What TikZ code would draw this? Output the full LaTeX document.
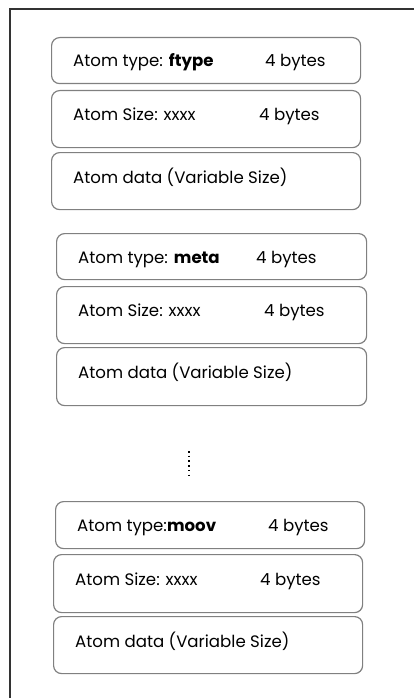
\documentclass[tikz,border=0pt]{standalone}
\usepackage{fontspec}
\setmainfont{Poppins}
\begin{document}
\begin{tikzpicture}[x=1pt,y=1pt,
  atombox/.style={draw=black!50, line width=1.2pt, rounded corners=8pt, anchor=north west, inner sep=0pt},
  lbl/.style={anchor=base west, inner sep=0pt, font=\fontsize{16.6}{18}\selectfont, text=black}]
\useasboundingbox (0,0) rectangle (414,-698);
% frame
\coordinate (ftl) at (10,-9);
\coordinate (ftr) at (414,-9);
\coordinate (fbl) at (10,-698);
\draw[line width=1.4pt, black!80] (fbl) -- (ftl) -- (ftr);
% group 1
\node[atombox, minimum width=309pt, minimum height=46pt] (a1) at (51,-37) {};
\node[atombox, minimum width=309pt, minimum height=57pt] (a2) at (51,-90) {};
\node[atombox, minimum width=309pt, minimum height=57pt] (a3) at (51,-152) {};
\node[lbl] (a1t) at (73,-67) {Atom type: \textbf{ftype}};
\node[lbl] (a1b) at (265,-67) {4 bytes};
\node[lbl] (a2t) at (73,-121) {Atom Size: xxxx};
\node[lbl] (a2b) at (259,-121) {4 bytes};
\node[lbl] (a3t) at (73,-183) {Atom data (Variable Size)};
% group 2
\node[atombox, minimum width=310pt, minimum height=46pt] (b1) at (56,-233) {};
\node[atombox, minimum width=310pt, minimum height=57pt] (b2) at (56,-286) {};
\node[atombox, minimum width=310pt, minimum height=58pt] (b3) at (56,-347) {};
\node[lbl] (b1t) at (78,-263) {Atom type: \textbf{meta}};
\node[lbl] (b1b) at (256,-263) {4 bytes};
\node[lbl] (b2t) at (78,-316) {Atom Size: xxxx};
\node[lbl] (b2b) at (264,-316) {4 bytes};
\node[lbl] (b3t) at (78,-378) {Atom data (Variable Size)};
% dots
\coordinate (d1) at (189,-451);
\coordinate (d2) at (189,-477);
\draw[line width=1.5pt, dash pattern=on 1.5pt off 3.2pt] (d1) -- (d2);
% group 3
\node[atombox, minimum width=309pt, minimum height=47pt] (c1) at (55,-501) {};
\node[atombox, minimum width=309pt, minimum height=58pt] (c2) at (53,-554) {};
\node[atombox, minimum width=309pt, minimum height=57pt] (c3) at (53,-616) {};
\node[lbl] (c1t) at (77,-531) {Atom type:\textbf{moov}};
\node[lbl] (c1b) at (268,-531) {4 bytes};
\node[lbl] (c2t) at (75,-585) {Atom Size: xxxx};
\node[lbl] (c2b) at (260,-585) {4 bytes};
\node[lbl] (c3t) at (75,-647) {Atom data (Variable Size)};
\end{tikzpicture}
\end{document}
